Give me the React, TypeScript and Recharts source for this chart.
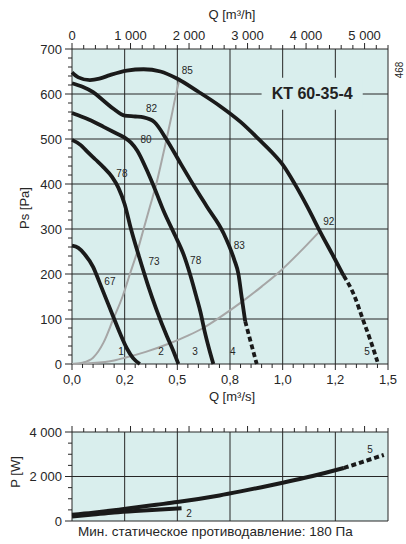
import React from 'react';
import { LineChart, Line, XAxis, YAxis, CartesianGrid, ReferenceArea, ReferenceDot } from 'recharts';

const FONT = '"Liberation Sans", Arial, Helvetica, sans-serif';
const PLOT_BG = '#d9eeed';
const INK = '#262626';
const CURVE = '#1a1a1a';
const SYSTEM = '#a6a6a6';

// axes
const qGrid = [0, 0.25, 0.5, 0.75, 1, 1.25, 1.5];
const qLabels = ['0,0', '0,2', '0,5', '0,8', '1,0', '1,2', '1,5'];
const qhLabels = [0, 1000, 2000, 3000, 4000, 5000];
const qhRange = [{ h: 0 }, { h: 5400 }];
const psGrid = [0, 100, 200, 300, 400, 500, 600, 700];
const powerGrid = [0, 2000, 4000];

const steps = (max: number, step: number) =>
  Array.from({ length: Math.round(max / step) + 1 }, (_, i) => +(i * step).toFixed(4));
const qTicks = steps(1.5, 0.05);
const qhTicks = steps(5400, 200);
const psTicks = steps(700, 20);
const powerTicks = steps(4000, 500);

// pressure curves, Ps [Pa] against Q [m3/s]
const curve1 = [
  { q: 0, p: 263 }, { q: 0.03, p: 258 }, { q: 0.06, p: 244 }, { q: 0.1, p: 216 },
  { q: 0.13, p: 182 }, { q: 0.16, p: 147 }, { q: 0.196, p: 105 }, { q: 0.23, p: 66 },
  { q: 0.26, p: 35 }, { q: 0.29, p: 13 }, { q: 0.322, p: 0 },
];
const curve2 = [
  { q: 0, p: 498 }, { q: 0.04, p: 487 }, { q: 0.07, p: 473 }, { q: 0.11, p: 455 },
  { q: 0.15, p: 437 }, { q: 0.19, p: 416 }, { q: 0.22, p: 392 }, { q: 0.25, p: 355 },
  { q: 0.28, p: 300 }, { q: 0.32, p: 236 }, { q: 0.36, p: 176 }, { q: 0.4, p: 122 },
  { q: 0.45, p: 62 }, { q: 0.48, p: 30 }, { q: 0.505, p: 0 },
];
const curve3 = [
  { q: 0, p: 558 }, { q: 0.05, p: 549 }, { q: 0.1, p: 539 }, { q: 0.15, p: 527 },
  { q: 0.2, p: 515 }, { q: 0.25, p: 503 }, { q: 0.28, p: 492 }, { q: 0.31, p: 474 },
  { q: 0.355, p: 431 }, { q: 0.395, p: 387 }, { q: 0.435, p: 340 }, { q: 0.49, p: 285 },
  { q: 0.53, p: 243 }, { q: 0.56, p: 200 }, { q: 0.59, p: 150 }, { q: 0.61, p: 115 },
  { q: 0.63, p: 72 }, { q: 0.65, p: 35 }, { q: 0.671, p: 0 },
];
const curve4 = [
  { q: 0, p: 624 }, { q: 0.05, p: 616 }, { q: 0.1, p: 604 }, { q: 0.15, p: 585 },
  { q: 0.2, p: 566 }, { q: 0.25, p: 552 }, { q: 0.3, p: 550 }, { q: 0.34, p: 548 },
  { q: 0.39, p: 538 }, { q: 0.45, p: 498 }, { q: 0.51, p: 450 }, { q: 0.58, p: 395 },
  { q: 0.64, p: 350 }, { q: 0.72, p: 290 }, { q: 0.77, p: 232 }, { q: 0.79, p: 200 },
  { q: 0.805, p: 150 }, { q: 0.822, p: 95 },
];
const curve4Dashed = [{ q: 0.822, p: 95 }, { q: 0.85, p: 46 }, { q: 0.877, p: 0 }];
const curve5 = [
  { q: 0, p: 648 }, { q: 0.03, p: 637 }, { q: 0.085, p: 631 }, { q: 0.13, p: 634 },
  { q: 0.18, p: 642 }, { q: 0.26, p: 652 }, { q: 0.34, p: 655 }, { q: 0.42, p: 650 },
  { q: 0.5, p: 634 }, { q: 0.6, p: 605 }, { q: 0.7, p: 574 }, { q: 0.8, p: 538 },
  { q: 0.89, p: 498 }, { q: 0.95, p: 470 }, { q: 1.0, p: 443 }, { q: 1.06, p: 398 },
  { q: 1.12, p: 347 }, { q: 1.18, p: 292 }, { q: 1.24, p: 240 }, { q: 1.29, p: 196 },
];
const curve5Dashed = [
  { q: 1.29, p: 196 }, { q: 1.34, p: 152 }, { q: 1.38, p: 100 }, { q: 1.42, p: 48 }, { q: 1.45, p: 5 },
];

// system lines (grey)
const systemSteep = [
  { q: 0, p: 0 }, { q: 0.05, p: 3 }, { q: 0.1, p: 14 }, { q: 0.15, p: 48 },
  { q: 0.196, p: 100 }, { q: 0.24, p: 150 }, { q: 0.275, p: 200 }, { q: 0.31, p: 250 },
  { q: 0.34, p: 300 }, { q: 0.37, p: 350 }, { q: 0.4, p: 400 }, { q: 0.425, p: 450 },
  { q: 0.449, p: 500 }, { q: 0.472, p: 550 }, { q: 0.494, p: 600 }, { q: 0.512, p: 636 },
];
const systemFlat = [
  { q: 0, p: 0 }, { q: 0.1, p: 2 }, { q: 0.2, p: 8 }, { q: 0.26, p: 15 },
  { q: 0.35, p: 27 }, { q: 0.465, p: 46 }, { q: 0.55, p: 63 }, { q: 0.623, p: 80 },
  { q: 0.7, p: 103 }, { q: 0.806, p: 138 }, { q: 0.9, p: 172 }, { q: 0.988, p: 206 },
  { q: 1.08, p: 248 }, { q: 1.17, p: 292 },
];

// power, P [W] against Q [m3/s]
const power2 = [
  { q: 0, p: 200 }, { q: 0.1, p: 290 }, { q: 0.2, p: 380 }, { q: 0.3, p: 450 },
  { q: 0.4, p: 510 }, { q: 0.52, p: 570 },
];
const power5 = [
  { q: 0, p: 280 }, { q: 0.1, p: 370 }, { q: 0.2, p: 480 }, { q: 0.3, p: 610 },
  { q: 0.4, p: 730 }, { q: 0.5, p: 850 }, { q: 0.6, p: 990 }, { q: 0.7, p: 1150 },
  { q: 0.8, p: 1330 }, { q: 0.9, p: 1520 }, { q: 1.0, p: 1720 }, { q: 1.1, p: 1930 },
  { q: 1.2, p: 2160 }, { q: 1.29, p: 2380 },
];
const power5Dashed = [{ q: 1.29, p: 2380 }, { q: 1.38, p: 2660 }, { q: 1.48, p: 2970 }];

// annotations on the curves
const pressureNotes = [
  { q: 0.547, p: 652, text: '85' }, { q: 0.378, p: 568, text: '82' },
  { q: 0.351, p: 498, text: '80' }, { q: 0.237, p: 424, text: '78' },
  { q: 0.18, p: 183, text: '67' }, { q: 0.389, p: 227, text: '73' },
  { q: 0.587, p: 231, text: '78' }, { q: 0.794, p: 263, text: '83' },
  { q: 1.219, p: 316, text: '92' },
  { q: 0.233, p: 27, text: '1' }, { q: 0.423, p: 27, text: '2' },
  { q: 0.584, p: 27, text: '3' }, { q: 0.763, p: 27, text: '4' },
  { q: 1.4, p: 27, text: '5' },
];
const powerNotes = [
  { q: 0.556, p: 347, text: '2' }, { q: 1.415, p: 3230, text: '5' },
];

const near = (a: number, b: number) => Math.abs(a - b) < 1e-6;
const thousands = (v: number) =>
  v >= 1000 ? `${Math.floor(v / 1000)} ${String(v % 1000).padStart(3, '0')}` : `${v}`;

function LeftTick({ x, y, payload, labels }: any) {
  const major = labels.some((m: number) => near(m, payload.value));
  return (
    <g>
      <line x1={x - (major ? 7 : 4)} x2={x} y1={y} y2={y} stroke={INK} />
      {major && (
        <text x={x - 10} y={y + 4.5} textAnchor="end" fontSize={13} fontFamily={FONT} fill={INK}>
          {thousands(payload.value)}
        </text>
      )}
    </g>
  );
}

function BottomTick({ x, y, payload }: any) {
  const idx = qGrid.findIndex((m) => near(m, payload.value));
  return (
    <g>
      <line x1={x} x2={x} y1={y} y2={y + (idx >= 0 ? 6 : 4)} stroke={INK} />
      {idx >= 0 && (
        <text x={x} y={y + 20} textAnchor="middle" fontSize={13} fontFamily={FONT} fill={INK}>
          {qLabels[idx]}
        </text>
      )}
    </g>
  );
}

function TopTick({ x, y, payload, showLabels }: any) {
  const major = qhLabels.includes(payload.value);
  return (
    <g>
      <line x1={x} x2={x} y1={y - (major ? 6 : 4)} y2={y} stroke={INK} />
      {showLabels && major && (
        <text x={x} y={y - 9} textAnchor="middle" fontSize={13} fontFamily={FONT} fill={INK}>
          {thousands(payload.value)}
        </text>
      )}
    </g>
  );
}

function Caption({ x, y, text, rotate = 0, size = 13, left = false }: any) {
  return (
    <div
      style={{
        position: 'absolute', left: x, top: y, fontSize: size, whiteSpace: 'nowrap', lineHeight: 1,
        transform: `translate(${left ? '0' : '-50%'}, -50%) rotate(${rotate}deg)`,
      }}
    >
      {text}
    </div>
  );
}

const note = (n: any, i: number) => (
  <ReferenceDot
    key={i} x={n.q} y={n.p} r={0} fill="none" stroke="none"
    label={{ value: n.text, position: 'center', fontSize: 10, fill: INK, fontFamily: FONT }}
  />
);

const solid = (data: any[], key: string) => (
  <Line key={key} data={data} dataKey="p" type="monotone" stroke={CURVE} strokeWidth={3.8} dot={false} isAnimationActive={false} />
);
const dashed = (data: any[], key: string) => (
  <Line key={key} data={data} dataKey="p" type="monotone" stroke={CURVE} strokeWidth={3.8} strokeDasharray="5 3" dot={false} isAnimationActive={false} />
);
const grey = (data: any[], key: string) => (
  <Line key={key} data={data} dataKey="p" type="monotone" stroke={SYSTEM} strokeWidth={2} dot={false} isAnimationActive={false} />
);

// the m3/h axis only carries ticks; an empty series ties it to the chart
const topAxis = (height: number, showLabels: boolean) => [
  <XAxis
    key="ax" xAxisId="top" orientation="top" dataKey="h" type="number" domain={[0, 5400]} ticks={qhTicks} interval={0}
    height={height} tickSize={0} tickMargin={0} axisLine={false} tickLine={false}
    tick={<TopTick showLabels={showLabels} />}
  />,
  <Line key="ln" xAxisId="top" data={qhRange} dataKey="none" stroke="none" dot={false} isAnimationActive={false} />,
];

export default function App() {
  return (
    <div style={{ position: 'absolute', left: 0, top: 0, width: 406, height: 544, background: '#fff', fontFamily: FONT, color: INK }}>
      <div style={{ position: 'absolute', left: 0, top: 0 }}>
        <LineChart width={406} height={404} margin={{ top: 0, right: 18, bottom: 0, left: 0 }}>
          <CartesianGrid fill={PLOT_BG} fillOpacity={1} stroke={INK} strokeWidth={1} horizontalValues={psGrid} verticalValues={qGrid} />
          {topAxis(49, true)}
          <XAxis
            dataKey="q" type="number" domain={[0, 1.5]} ticks={qTicks} interval={0}
            height={40} tickSize={0} tickMargin={0} axisLine={false} tickLine={false}
            tick={<BottomTick />}
          />
          <YAxis
            type="number" domain={[0, 700]} ticks={psTicks} interval={0}
            width={72} tickSize={0} tickMargin={0} axisLine={false} tickLine={false}
            tick={<LeftTick labels={psGrid} />}
          />
          <ReferenceArea
            x1={0.9} x2={1.38} y1={565} y2={636} fill={PLOT_BG} fillOpacity={1} stroke="none"
            label={{ value: 'KT 60-35-4', position: 'center', fontSize: 16, fontWeight: 'bold', fill: '#222', fontFamily: FONT }}
          />
          {grey(systemSteep, 'ss')}
          {grey(systemFlat, 'sf')}
          {solid(curve1, 'c1')}
          {solid(curve2, 'c2')}
          {solid(curve3, 'c3')}
          {solid(curve4, 'c4')}
          {dashed(curve4Dashed, 'c4d')}
          {solid(curve5, 'c5')}
          {dashed(curve5Dashed, 'c5d')}
          {pressureNotes.map(note)}
        </LineChart>
      </div>

      <div style={{ position: 'absolute', left: 0, top: 404 }}>
        <LineChart width={406} height={140} margin={{ top: 0, right: 18, bottom: 23, left: 0 }}>
          <CartesianGrid fill={PLOT_BG} fillOpacity={1} stroke={INK} strokeWidth={1} horizontalValues={powerGrid} verticalValues={qGrid} />
          {topAxis(28, false)}
          <XAxis dataKey="q" type="number" domain={[0, 1.5]} hide />
          <YAxis
            type="number" domain={[0, 4000]} ticks={powerTicks} interval={0}
            width={72} tickSize={0} tickMargin={0} axisLine={false} tickLine={false}
            tick={<LeftTick labels={powerGrid} />}
          />
          <Line data={power2} dataKey="p" type="monotone" stroke={CURVE} strokeWidth={4} dot={false} isAnimationActive={false} />
          <Line data={power5} dataKey="p" type="monotone" stroke={CURVE} strokeWidth={4} dot={false} isAnimationActive={false} />
          <Line data={power5Dashed} dataKey="p" type="monotone" stroke={CURVE} strokeWidth={4} strokeDasharray="5 3" dot={false} isAnimationActive={false} />
          {powerNotes.map(note)}
        </LineChart>
      </div>

      <Caption x={232} y={14} text="Q [m³/h]" />
      <Caption x={232} y={396} text="Q [m³/s]" />
      <Caption x={24} y={208} text="Ps [Pa]" rotate={-90} />
      <Caption x={15} y={472} text="P [W]" rotate={-90} />
      <Caption x={400} y={70} text="468" rotate={-90} size={10} />
      <Caption x={78} y={532} text="Мин. статическое противодавление: 180 Па" size={13.5} left />
    </div>
  );
}
